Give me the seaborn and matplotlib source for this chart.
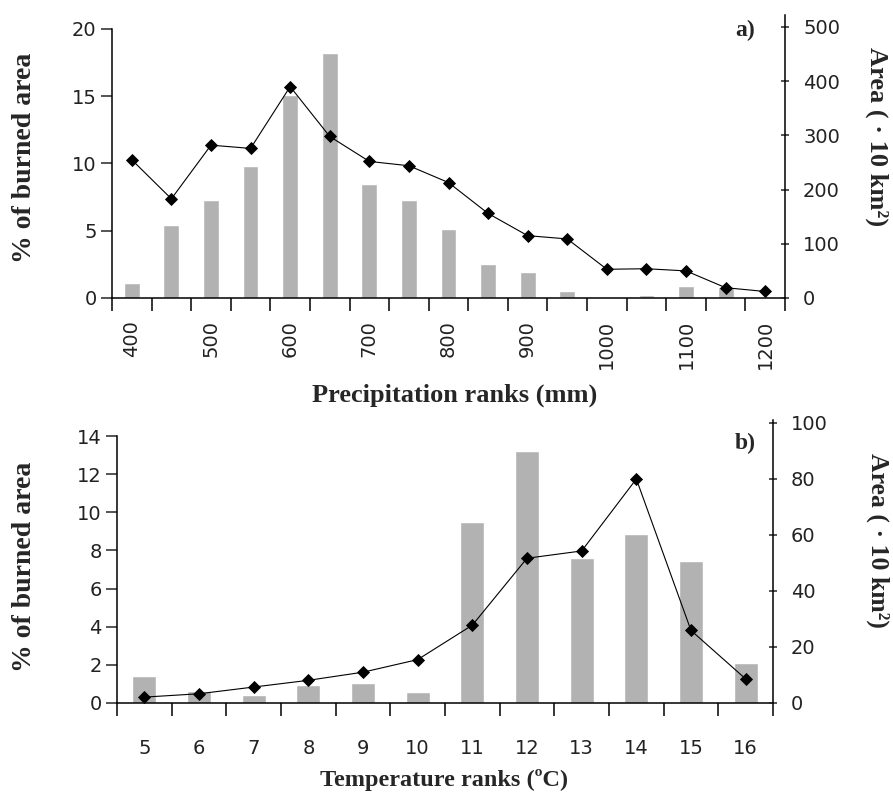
import numpy as np
import seaborn as sns
import matplotlib
matplotlib.use("Agg")
import matplotlib.pyplot as plt

# Data
prec_ranks = [400, 450, 500, 550, 600, 650, 700, 750, 800, 850, 900, 950,
              1000, 1050, 1100, 1150, 1200]
prec_pct = [1.1, 5.4, 7.3, 9.8, 15.1, 18.2, 8.5, 7.3, 5.1, 2.5, 1.9, 0.5,
            0.0, 0.2, 0.9, 0.8, 0.0]
prec_area = [255, 183, 282, 276, 390, 298, 252, 244, 213, 156, 115, 109,
             53, 54, 50, 19, 12]

temp_ranks = [5, 6, 7, 8, 9, 10, 11, 12, 13, 14, 15, 16]
temp_pct = [1.4, 0.65, 0.4, 0.95, 1.05, 0.6, 9.5, 13.2, 7.6, 8.85, 7.45, 2.1]
temp_area = [2.1, 3.3, 5.7, 8.1, 11.0, 15.5, 27.8, 51.7, 54.3, 80.0, 25.9, 8.6]

sns.set_style("ticks")
plt.rcParams["font.family"] = ["DejaVu Sans"]

W, H = 893, 799
fig = plt.figure(figsize=(W / 100, H / 100), dpi=100)

BAR = "#b2b2b2"
TICKC = "#222222"
SERIF = ["Liberation Serif", "DejaVu Serif"]
TICKFS = 14


def box(x0, y0, x1, y1):
    # pixel box (top-left origin) -> figure fraction rect
    return [x0 / W, 1 - y1 / H, (x1 - x0) / W, (y1 - y0) / H]


def panel(rect, cats, pct, area, lmax, ltop, rmax, rtop, lticks, rticks,
          width, every, xpad):
    ax = fig.add_axes(rect)
    sns.barplot(x=cats, y=pct, color=BAR, width=width, saturation=1,
                ax=ax, zorder=2)
    n = len(cats)
    ax.set_xlim(-0.5, n - 0.5)
    ax.set_ylim(0, ltop)
    ax.set_yticks(lticks)
    ax.spines["top"].set_visible(False)
    ax.spines["right"].set_visible(False)
    ax.spines["left"].set_bounds(0, lmax)
    for s in ("left", "bottom"):
        ax.spines[s].set_linewidth(1.1)
        ax.spines[s].set_color("black")
    ax.set_xlabel("")
    ax.set_ylabel("")

    # category boundaries carry the tick marks, labels sit at centres
    ax.set_xticks(np.arange(n + 1) - 0.5)
    ax.set_xticklabels([])
    ax.set_xticks(np.arange(0, n, every), minor=True)
    ax.set_xticklabels([str(c) for c in cats[::every]], minor=True)
    ax.tick_params(axis="x", which="major", direction="out", length=9,
                   width=1.1, color="black")
    ax.tick_params(axis="x", which="minor", length=0, pad=xpad,
                   labelsize=TICKFS, labelcolor=TICKC)
    ax.tick_params(axis="y", direction="out", length=8, width=1.1,
                   pad=3, labelsize=TICKFS, labelcolor=TICKC)

    ax2 = ax.twinx()
    sns.pointplot(x=cats, y=area, color="black", markers="D",
                  markersize=6, linewidth=0.8, ax=ax2)
    ax2.set_xlim(-0.5, n - 0.5)
    ax2.set_ylim(0, rtop)
    ax2.set_yticks(rticks)
    ax2.set_ylabel("")
    ax2.set_xlabel("")
    for s in ("top", "left", "bottom"):
        ax2.spines[s].set_visible(False)
    ax2.spines["right"].set_linewidth(1.1)
    ax2.spines["right"].set_color("black")
    ax2.tick_params(axis="y", direction="inout", length=6, width=1.1,
                    pad=10, labelsize=TICKFS, labelcolor=TICKC)
    return ax, ax2


# a) precipitation
panel(box(112, 15, 785, 298), prec_ranks, prec_pct, prec_area,
      20, 20 * 283 / 269, 500, 500 * 283 / 271,
      [0, 5, 10, 15, 20], [0, 100, 200, 300, 400, 500],
      0.4, 2, 16)
ax_top = fig.axes[0]
for lab in ax_top.get_xticklabels(minor=True):
    lab.set_rotation(90)
    lab.set_va("top")

# b) temperature
panel(box(117, 420, 773, 703), temp_ranks, temp_pct, temp_area,
      14, 14 * 283 / 267, 100, 100 * 283 / 280,
      list(range(0, 15, 2)), [0, 20, 40, 60, 80, 100],
      0.44, 1, 26)


def ftext(x, y, s, **kw):
    fig.text(x / W, 1 - y / H, s, ha="center", va="center",
             family=SERIF, fontweight="bold", **kw)


ftext(25, 158, "% of burned area", fontsize=20, rotation=90)
ftext(25, 567, "% of burned area", fontsize=20, rotation=90)
ftext(877, 137, "Area ( \u00b7 10 km\u00b2)", fontsize=19, rotation=-90)
ftext(878, 540, "Area ( \u00b7 10 km\u00b2)", fontsize=18.5, rotation=-90)
ftext(455, 395, "Precipitation ranks (mm)", fontsize=19)
ftext(444, 780, "Temperature ranks (\u00baC)", fontsize=17.5)
ftext(745, 30, "a)", fontsize=17)
ftext(745, 443, "b)", fontsize=17)

plt.savefig("out.png", dpi=100)
plt.close()
